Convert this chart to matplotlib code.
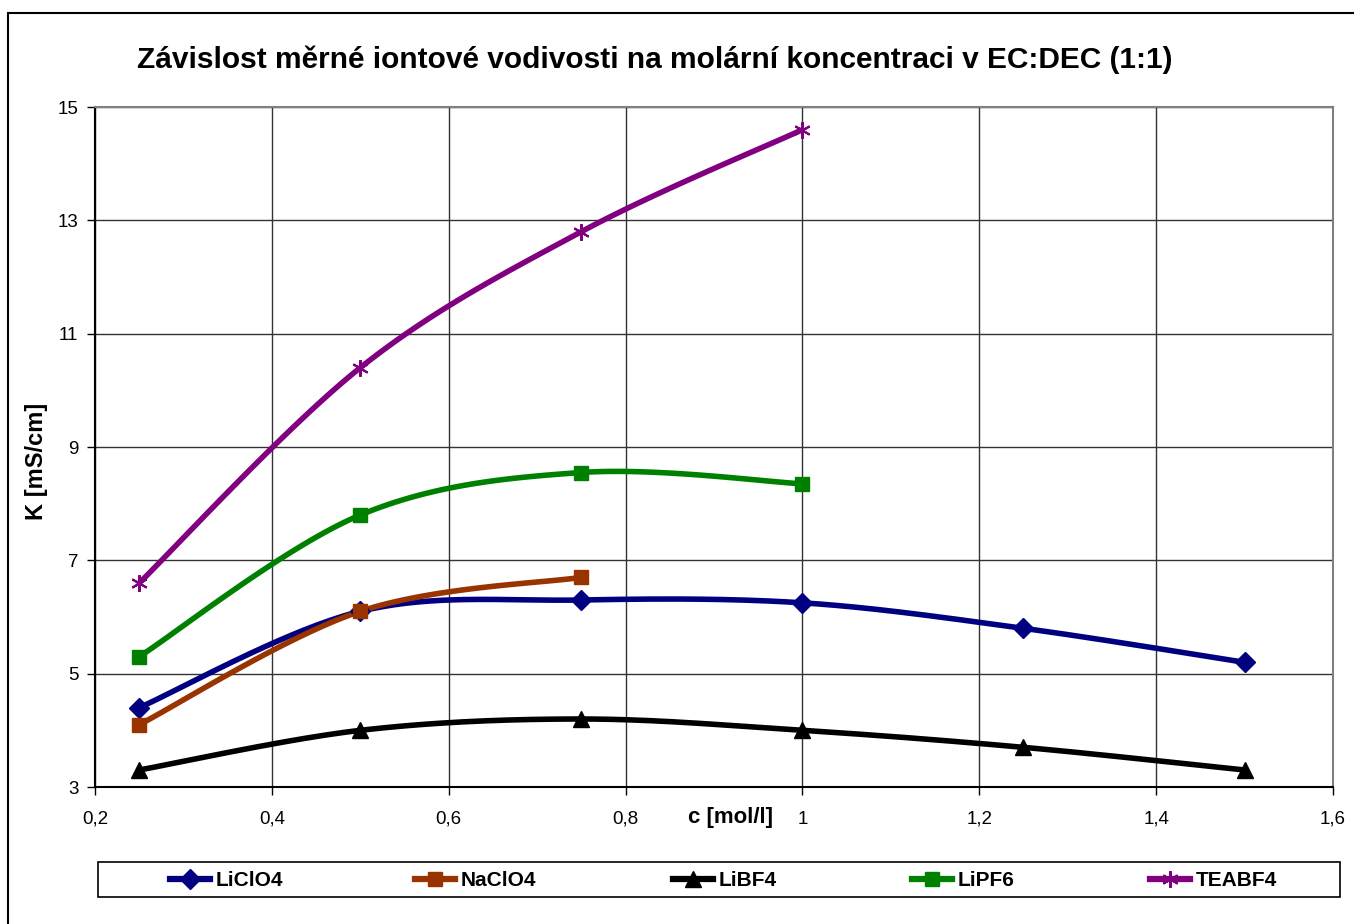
import numpy as np
import matplotlib
matplotlib.use("Agg")
import matplotlib.pyplot as plt
from matplotlib.patches import Rectangle
from matplotlib.ticker import FuncFormatter

plt.rcParams['font.family'] = ['Liberation Sans', 'DejaVu Sans']

# --- Data ---
conc = [0.25, 0.5, 0.75, 1.0, 1.25, 1.5]
liclo4 = [4.4, 6.1, 6.3, 6.25, 5.8, 5.2]
naclo4 = [4.1, 6.1, 6.7]
libf4 = [3.3, 4.0, 4.2, 4.0, 3.7, 3.3]
lipf6 = [5.3, 7.8, 8.55, 8.35]
teabf4 = [6.6, 10.4, 12.8, 14.6]

series = [
    ('LiClO4', liclo4, '#000080', 'D', 10),
    ('NaClO4', naclo4, '#993300', 's', 10),
    ('LiBF4', libf4, '#000000', '^', 11),
    ('LiPF6', lipf6, '#008000', 's', 10),
    ('TEABF4', teabf4, '#800080', (6, 2, 0), 12),
]
# legend entry x positions (pixels)
leg_x = [170, 415, 673, 912, 1150]


# --- Excel-like smoothing (Catmull-Rom as cubic bezier) ---
def smooth(x, y, n=40):
    p = np.column_stack([x, y]).astype(float)
    if len(p) < 3:
        return p[:, 0], p[:, 1]
    out = []
    for i in range(len(p) - 1):
        p0 = p[i - 1] if i > 0 else p[i]
        p1 = p[i]
        p2 = p[i + 1]
        p3 = p[i + 2] if i + 2 < len(p) else p[i + 1]
        c1 = p1 + (p2 - p0) / 6.0
        c2 = p2 - (p3 - p1) / 6.0
        t = np.linspace(0, 1, n)[:, None]
        seg = ((1 - t) ** 3) * p1 + 3 * ((1 - t) ** 2) * t * c1 + 3 * (1 - t) * t ** 2 * c2 + t ** 3 * p2
        out.append(seg if i == 0 else seg[1:])
    out = np.vstack(out)
    return out[:, 0], out[:, 1]


fig = plt.figure(figsize=(13.54, 9.24), dpi=100)
fig.patches.append(Rectangle((8 / 1354, -0.05), 1.2, 1 - 13 / 924 + 0.05,
                             transform=fig.transFigure, fill=False,
                             edgecolor='black', linewidth=1.5, zorder=0))

ax = fig.add_axes([95 / 1354, 1 - 787 / 924, (1333 - 95) / 1354, (787 - 107) / 924])

handles = []
for name, vals, col, mk, ms in series:
    xs = conc[:len(vals)]
    sx, sy = smooth(xs, vals)
    ax.plot(sx, sy, color=col, lw=4, solid_capstyle='round', zorder=3)
    star = isinstance(mk, tuple)
    ax.plot(xs, vals, ls='none', marker=mk, ms=ms, color=col, mec=col,
            mew=1.5 if star else 1, zorder=4)
    h, = ax.plot([], [], color=col, lw=4.5, marker=mk, ms=ms, mec=col,
                 mew=1.5 if star else 1)
    handles.append((h, name))

ax.set_xlim(0.2, 1.6)
ax.set_ylim(3, 15)
ax.set_xticks(np.arange(0.2, 1.61, 0.2))
ax.set_yticks(np.arange(3, 15.1, 2))
fmt = FuncFormatter(lambda v, p: ('%g' % round(v, 2)).replace('.', ','))
ax.xaxis.set_major_formatter(fmt)
ax.yaxis.set_major_formatter(fmt)
ax.tick_params(direction='out', length=6, width=1, labelsize=13.5, colors='black')
ax.tick_params(axis='x', pad=11)
ax.tick_params(axis='y', pad=6)
ax.grid(True, color='#333333', lw=1, zorder=1)
for s in ['top', 'right']:
    ax.spines[s].set_color('#808080')
    ax.spines[s].set_linewidth(1.5)
for s in ['left', 'bottom']:
    ax.spines[s].set_linewidth(1.5)

fig.text(655 / 1354, 1 - 60 / 924, 'Závislost měrné iontové vodivosti na molární koncentraci v EC:DEC (1:1)',
         ha='center', va='center', fontsize=21.5, fontweight='bold')
fig.text(730 / 1354, 1 - 818 / 924, 'c [mol/l]', ha='center', va='center', fontsize=16, fontweight='bold')
fig.text(36 / 1354, 1 - 461 / 924, 'K [mS/cm]', ha='center', va='center', rotation=90,
         fontsize=17, fontweight='bold')

# legend frame and entries
fig.patches.append(Rectangle((98 / 1354, 1 - 897 / 924), (1340 - 98) / 1354, 35 / 924,
                             transform=fig.transFigure, fill=False,
                             edgecolor='black', linewidth=1.2, zorder=1))
for (h, name), lx in zip(handles, leg_x):
    fig.legend([h], [name], loc='center left',
               bbox_to_anchor=(lx / 1354, 1 - 881 / 924),
               frameon=False, prop={'weight': 'bold', 'size': 15},
               handlelength=1.9, handletextpad=0.3, borderaxespad=0, borderpad=0)

fig.savefig('out.png', dpi=100)
